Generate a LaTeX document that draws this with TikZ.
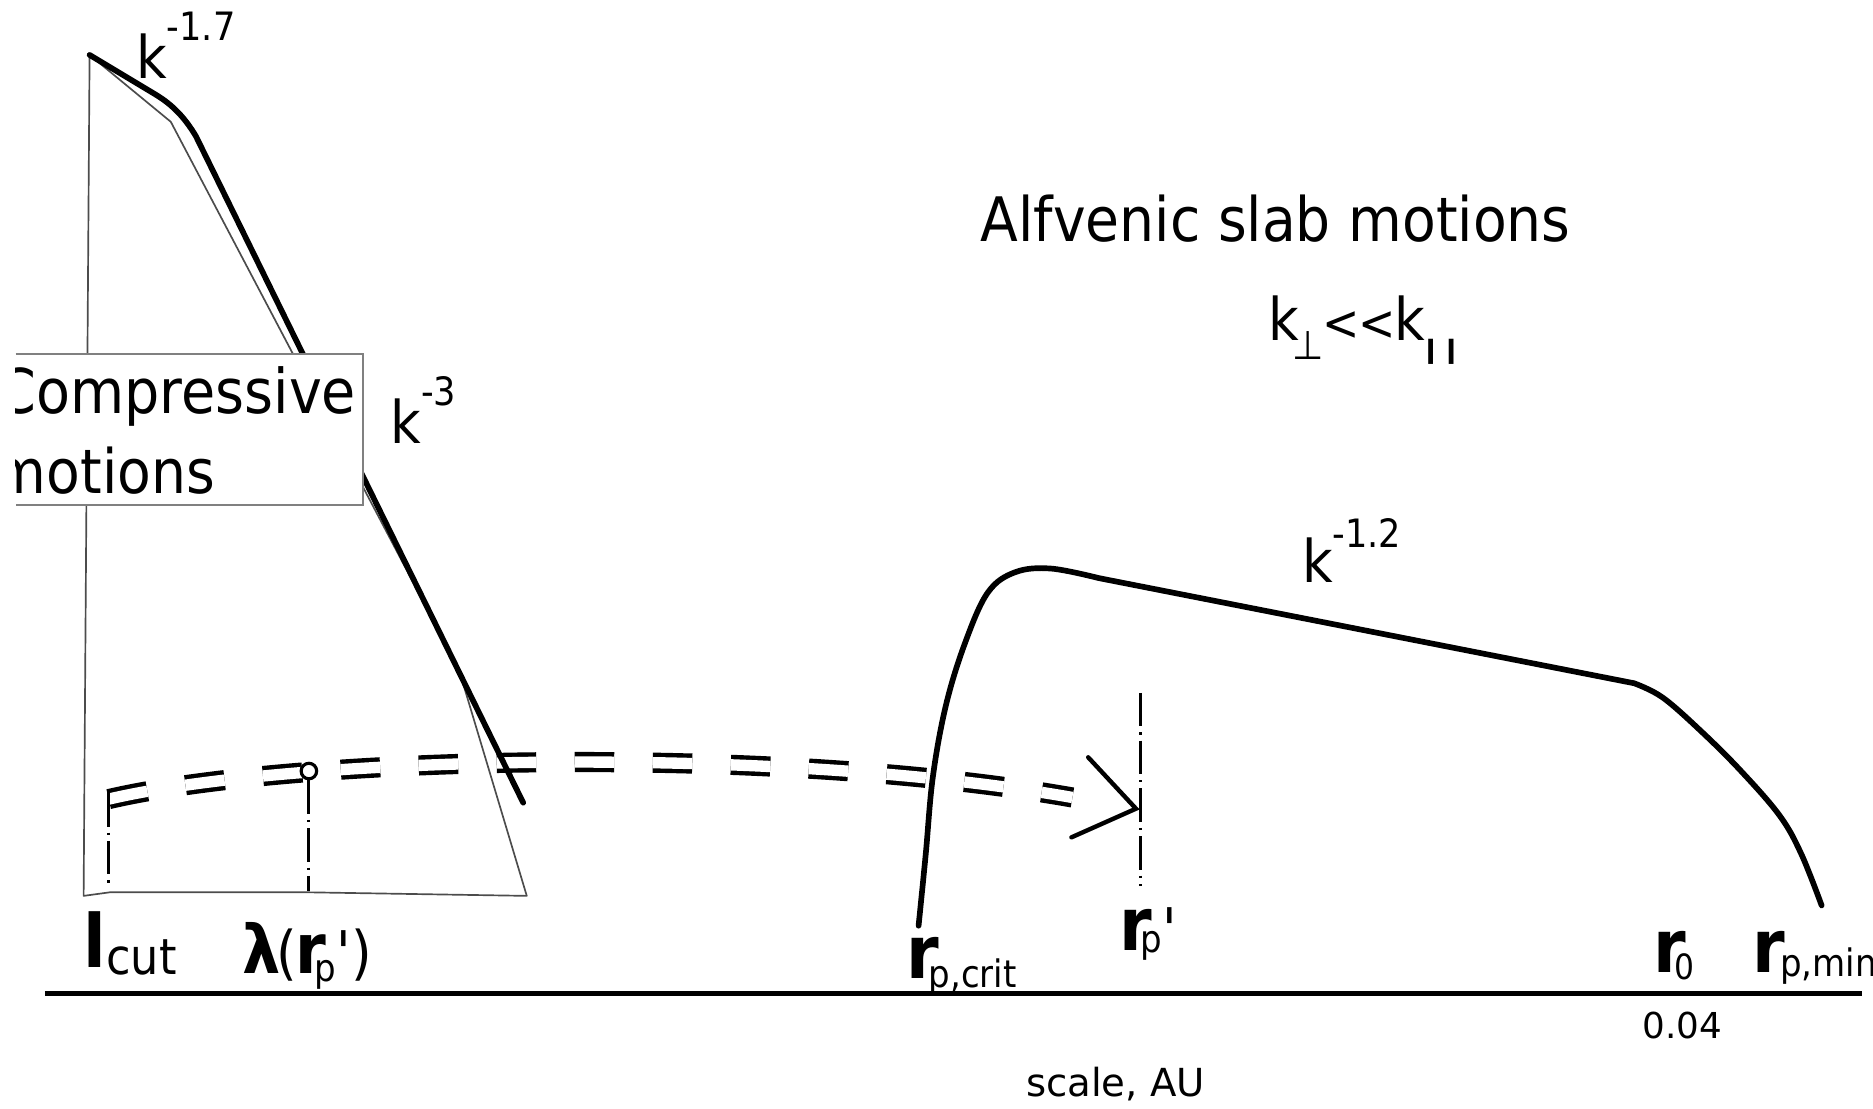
\documentclass[tikz,border=0pt]{standalone}
\usepackage{fontspec}
\setmainfont{DejaVu Sans}[FakeStretch=0.9]
\newfontfamily\tfont{DejaVu Sans}[FakeStretch=0.9]
\newfontfamily\widefont{DejaVu Sans}
\begin{document}
\begin{tikzpicture}[x={(0.01cm,0cm)}, y={(0cm,-0.01cm)},
  every node/.style={font=\tfont},
  txt/.style={anchor=base west, inner sep=0pt, outer sep=0pt},
  thinedge/.style={draw=black!70, line width=0.4pt, line join=round},
  thickcurve/.style={line width=1.35pt, line join=round, line cap=round},
  dashdot/.style={line width=0.75pt, dash pattern=on 7.97pt off 1.42pt on 0.57pt off 1.42pt},
  dbl/.style={double, double distance=2.7pt, line width=1.05pt, dash pattern=on 9.39pt off 9.19pt},
  arrowarm/.style={line width=1.05pt, line cap=round, line join=miter},
  boxedge/.style={draw=black!50, line width=0.45pt},
]
\useasboundingbox (0,0) rectangle (1568,928);

% axis
\coordinate (axL) at (37.5,832);
\coordinate (axR) at (1559,832);
\draw[line width=1.25pt] (axL) -- (axR);

% thin spectrum outline
\draw[thinedge] (75,46) -- (143,102) -- (384,560) -- (441,750) -- (257,747) -- (92,747) -- (70,750) -- cycle;

% dashed double arrow
\coordinate (dstart) at (91,669);
\coordinate (dtip) at (951,677);
\coordinate (armA) at (911,634);
\coordinate (armB) at (897,701);
\draw[dbl, shorten >=0.54cm] (dstart) .. controls (250,632) and (650,624) .. (dtip);
\draw[arrowarm] (armA) -- (dtip) -- (armB);

% thick compressive spectrum
\draw[thickcurve] (75,46) -- (130,79) .. controls (145,88) and (155,99) .. (164,114) -- (438,672);

% box
\fill[white] (13,296) rectangle (304,423);
\draw[boxedge] (13,296) -- (304,296) -- (304,423) -- (13,423);
\begin{scope}
\clip (13,296) rectangle (304,423);
\node[txt] (cmpA) at (-2,346) {\fontsize{14.7}{16}\selectfont Compressive};
\node[txt] (cmpB) at (-6,413) {\fontsize{14.6}{16}\selectfont motions};
\end{scope}

% markers
\node[circle, draw, fill=white, line width=0.75pt, minimum size=0.13cm, inner sep=0pt] (lamc) at (258.6,645.5) {};
\coordinate (lcTop) at (91,664);
\coordinate (lcBot) at (91,744);
\coordinate (lamBot) at (258.6,746);
\coordinate (rpTop) at (955,580);
\coordinate (rpBot) at (955,742);
\draw[dashdot] (lcTop) -- (lcBot);
\draw[dashdot] (lamc.south) -- (lamBot);
\draw[dashdot] (rpTop) -- (rpBot);

% Alfvenic spectrum
\draw[thickcurve] plot[smooth, tension=0.6] coordinates {(769,775) (775,715) (781,650) (792,590) (808,538) (827,496) (850,479) (880,476) (920,484)}
  -- plot[smooth, tension=0.6] coordinates {(1368,572) (1392,584) (1425,613) (1458,646) (1490,683) (1508,715) (1525,758)};

% texts
\node[txt] (alf) at (821,202) {\fontsize{14.6}{16}\selectfont Alfvenic slab motions};
\node[txt] (kk) at (1062,285) {\fontsize{14}{16}\selectfont k\kern-1.7pt\raisebox{-4.6pt}{\fontsize{9.5}{10}\selectfont ⊥}\kern-0.2pt{\fontsize{11.8}{14}\selectfont <\kern-0.3pt<}\kern-0.3pt k\kern-0.6pt\raisebox{-4.2pt}{\bfseries\fontsize{6}{6}\selectfont \scalebox{1.9}[1]{|}\kern1.1pt\scalebox{1.9}[1]{|}}};
\node[txt] (k17) at (114,65.6) {\fontsize{14}{16}\selectfont k\raisebox{9pt}{\fontsize{9.3}{10}\selectfont -1.7}};
\node[txt] (k3) at (327,371) {\fontsize{14}{16}\selectfont k\raisebox{9pt}{\fontsize{9.3}{10}\selectfont -3}};
\node[txt] (k12) at (1090,488) {\fontsize{14}{16}\selectfont k\raisebox{8.5pt}{\fontsize{9.3}{10}\selectfont -1.2}};

\node[txt] (lcut) at (70,810) {\fontsize{17.5}{18}\selectfont\bfseries l\raisebox{-1.7pt}{\mdseries\fontsize{11.8}{12}\selectfont cut}};
\node[txt] (lamlbl) at (203,815) {\fontsize{16}{18}\selectfont\bfseries λ\kern-1pt\mdseries\fontsize{14}{16}\selectfont(\kern-0.5pt\bfseries\fontsize{16.5}{18}\selectfont r\kern-2.6pt\raisebox{-2pt}{\mdseries\fontsize{9}{10}\selectfont p}\mdseries\fontsize{14}{16}\selectfont')};
\node[txt] (rcrit) at (759,819) {\fontsize{17.5}{18}\selectfont\bfseries r\kern-2.5pt\raisebox{-2.3pt}{\mdseries\fontsize{9}{10}\selectfont p,crit}};
\node[txt] (rprime) at (937,796) {\fontsize{17.5}{18}\selectfont\bfseries r\kern-2.6pt\raisebox{-0.3pt}{\mdseries\fontsize{9}{10}\selectfont p}\mdseries\fontsize{14}{16}\selectfont'};
\node[txt] (rzero) at (1384,814) {\fontsize{17.5}{18}\selectfont\bfseries r\kern-2.6pt\raisebox{-1.7pt}{\mdseries\fontsize{8.3}{10}\selectfont 0}};
\node[txt] (rmin) at (1467,814) {\fontsize{17.5}{18}\selectfont\bfseries r\kern-1.1pt\raisebox{-1.1pt}{\mdseries\fontsize{9}{10}\selectfont p,min}};
\node[txt] (v004) at (1375,869) {\widefont\fontsize{8.5}{10}\selectfont 0.04};
\node[txt] (scl) at (859,918) {\widefont\fontsize{9.2}{10}\selectfont scale, AU};
\end{tikzpicture}
\end{document}
